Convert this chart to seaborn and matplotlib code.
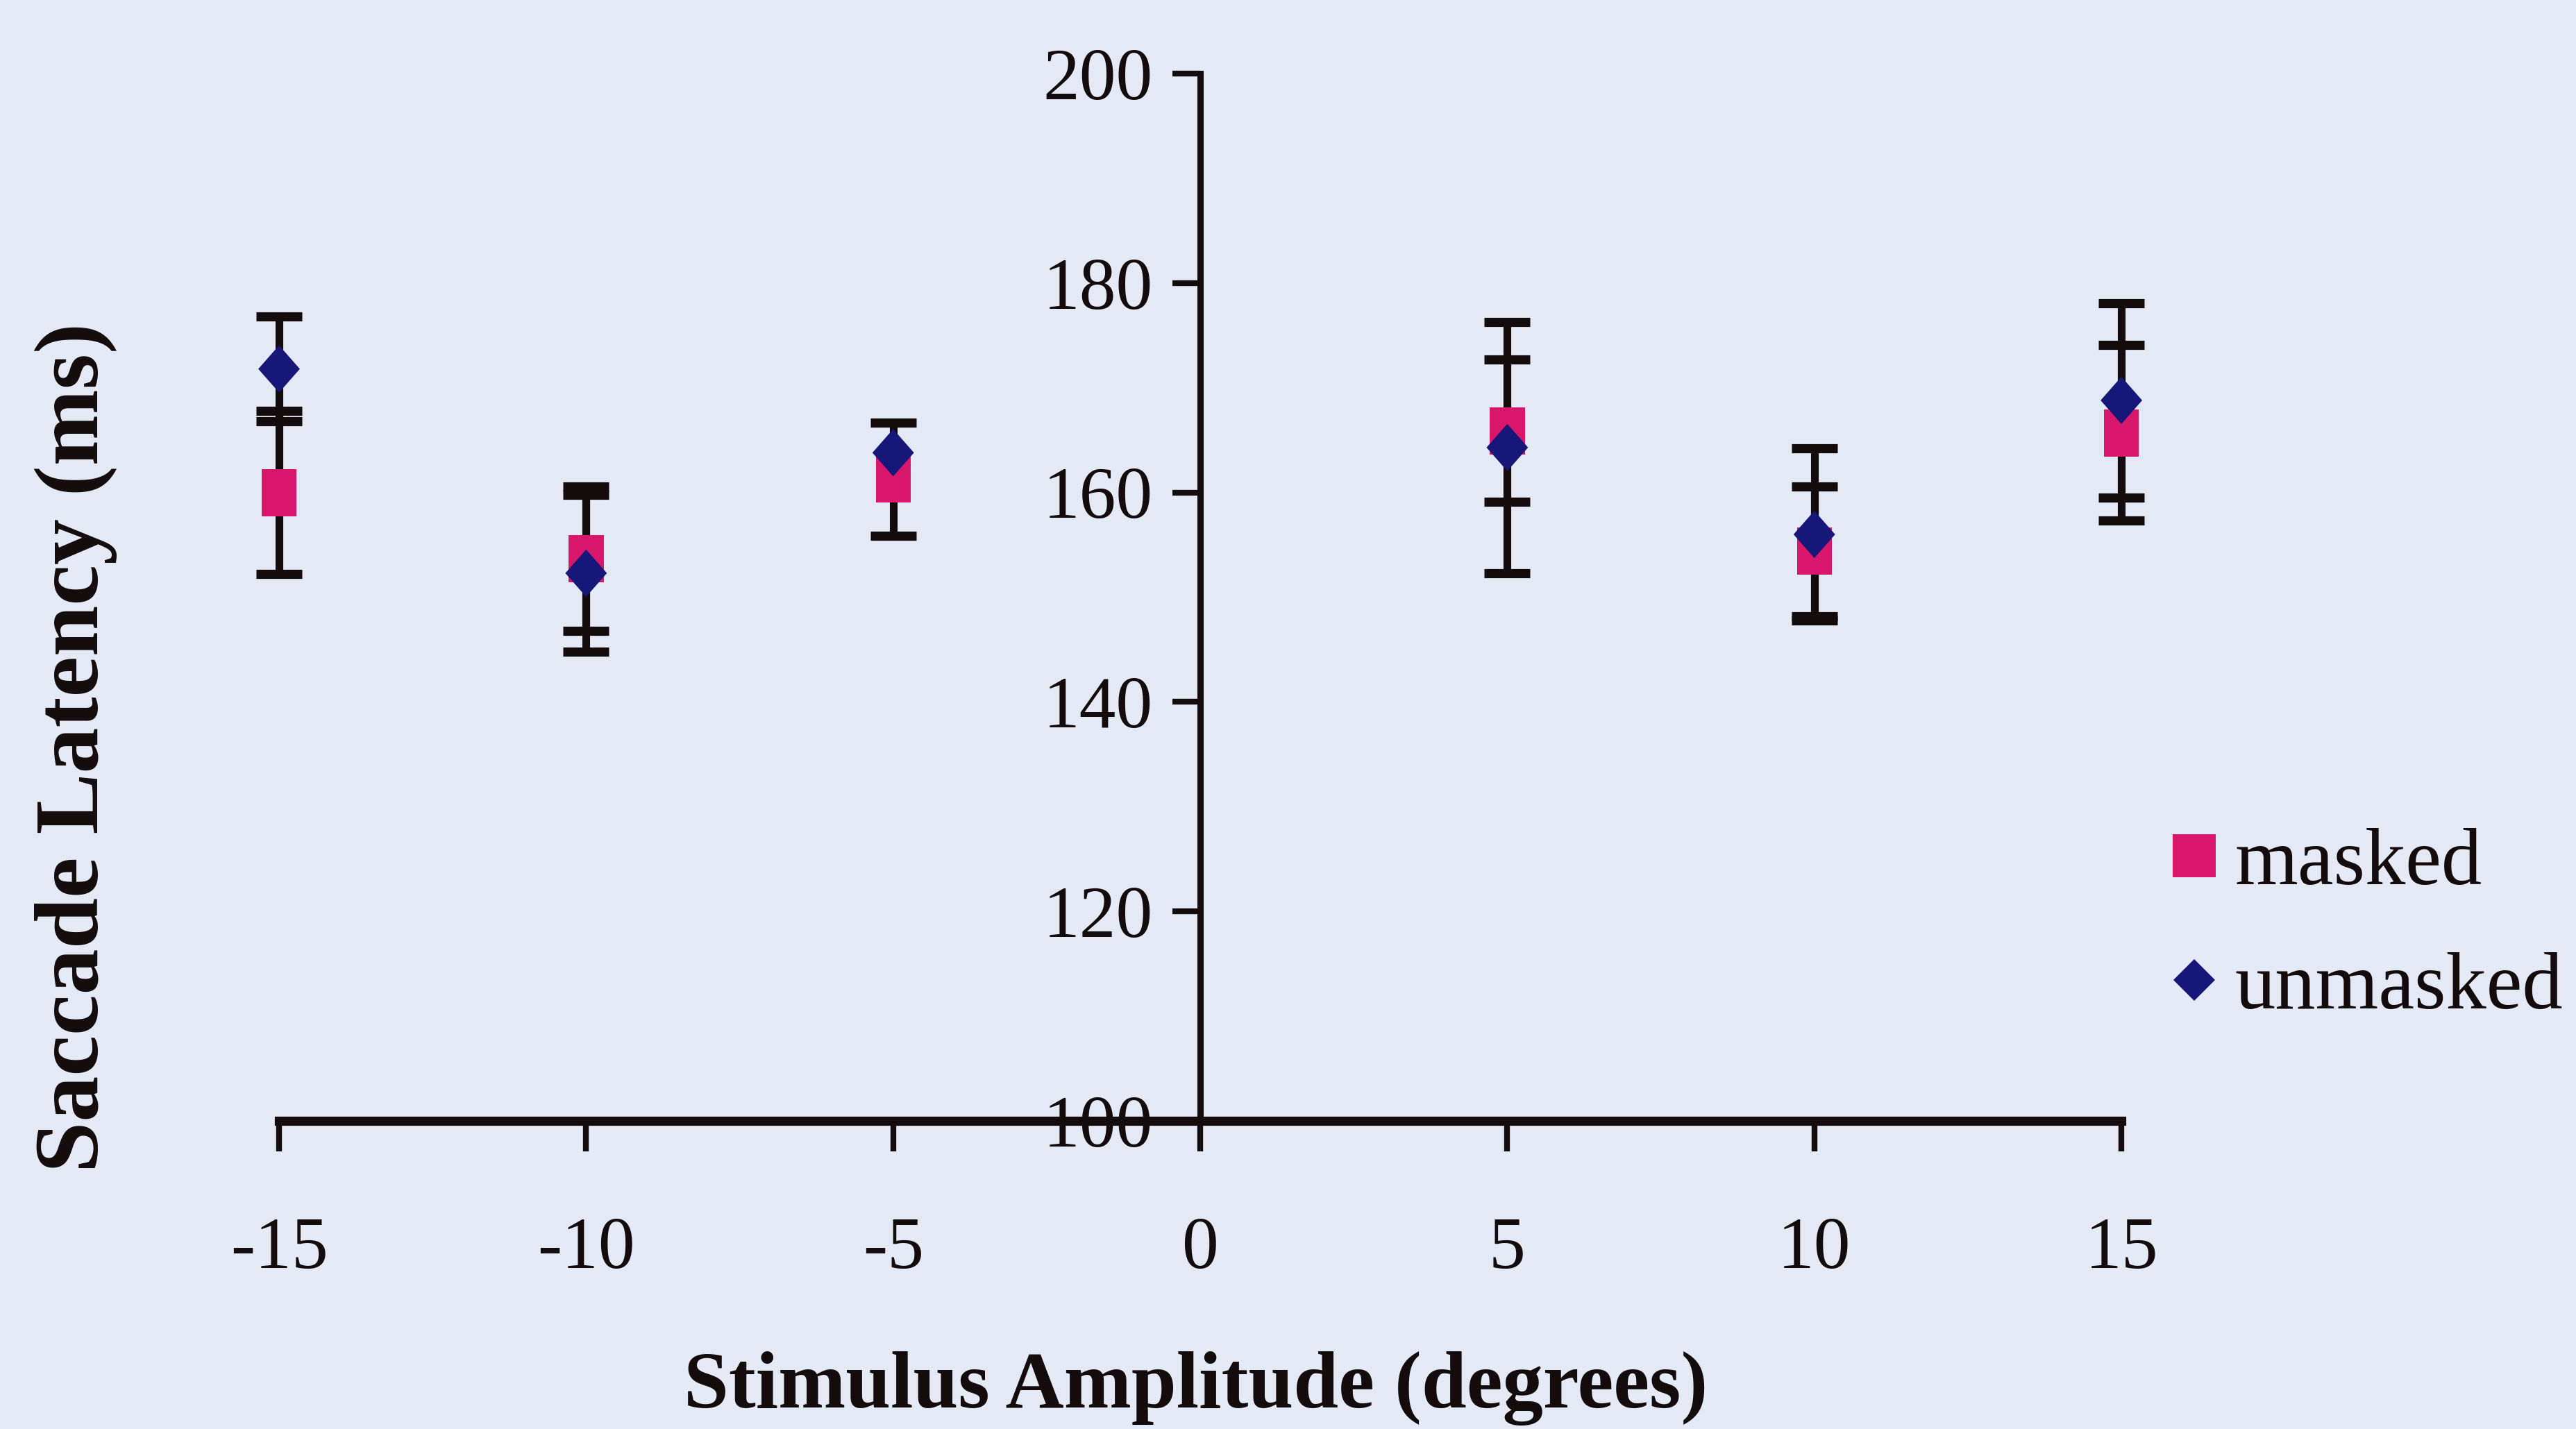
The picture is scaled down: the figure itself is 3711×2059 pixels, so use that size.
import numpy as np
import pandas as pd
import matplotlib
matplotlib.use("Agg")
import matplotlib.pyplot as plt
from matplotlib.lines import Line2D
from matplotlib.path import Path
import seaborn as sns

# valores
amplitud = [-15, -10, -5, 5, 10, 15]
masked_media = [160.0, 153.7, 161.3, 165.9, 154.4, 165.7]
masked_err = [7.8, 6.9, 5.4, 6.8, 6.2, 8.4]
unmasked_media = [171.8, 152.3, 163.8, 164.3, 156.0, 168.8]
# en -5 no se ve barra propia para unmasked
unmasked_err = [5.0, 7.5, 0.0, 12.0, 8.2, 9.3]

x_ticks = [-15, -10, -5, 0, 5, 10, 15]
y_ticks = [100, 120, 140, 160, 180, 200]

fondo = "#e4e9f6"
rosa = "#d8166c"
azul = "#17177a"
negro = "#140c0c"

sns.set_style("ticks")
plt.rcParams["font.family"] = ["Liberation Serif", "DejaVu Serif"]
plt.rcParams["axes.unicode_minus"] = False

df = pd.DataFrame({
    "amplitud": amplitud * 2,
    "latencia": masked_media + unmasked_media,
    "err": masked_err + unmasked_err,
    "condicion": ["masked"] * len(amplitud) + ["unmasked"] * len(amplitud),
})

# marcadores algo alargados en vertical, como en la figura original
rect = Path([(-0.74, -1), (0.74, -1), (0.74, 1), (-0.74, 1), (-0.74, -1)], closed=True)
rombo = Path([(0, -1), (0.88, 0), (0, 1), (-0.88, 0), (0, -1)], closed=True)

fig = plt.figure(figsize=(37.12, 20.59), dpi=100, facecolor=fondo)
ax = fig.add_axes([0.1083, 0.2156, 0.715, 0.7329])
ax.set_facecolor(fondo)

for cond in ["masked", "unmasked"]:
    sub = df[(df["condicion"] == cond) & (df["err"] > 0)]
    ax.errorbar(sub["amplitud"], sub["latencia"], yerr=sub["err"], fmt="none",
                ecolor=negro, elinewidth=8, capsize=24, capthick=9.5,
                clip_on=False, zorder=2)

sns.scatterplot(data=df, x="amplitud", y="latencia", hue="condicion", style="condicion",
                markers={"masked": rect, "unmasked": rombo},
                palette={"masked": rosa, "unmasked": azul},
                s=2400, linewidth=0, legend=False, clip_on=False, zorder=3, ax=ax)

ax.set_xlim(-15, 15)
ax.set_ylim(100, 200)
ax.set_xticks(x_ticks)
ax.set_xticklabels([str(t) for t in x_ticks])
ax.set_yticks(y_ticks)
ax.set_yticklabels([str(t) for t in y_ticks])
ax.set_xlabel("")
ax.set_ylabel("")

ax.spines["left"].set_position(("data", 0))
ax.spines["top"].set_visible(False)
ax.spines["right"].set_visible(False)
ax.spines["bottom"].set_linewidth(9.5)
ax.spines["left"].set_linewidth(6.5)
ax.spines["bottom"].set_color(negro)
ax.spines["left"].set_color(negro)
ax.spines["bottom"].set_zorder(1)

ax.tick_params(axis="x", direction="out", length=32, width=6, color=negro,
               pad=68, labelsize=76, labelcolor=negro)
ax.tick_params(axis="y", direction="out", length=29, width=6, color=negro,
               pad=20, labelsize=76, labelcolor=negro)

fig.text(1723 / 3712, 1 - 2000 / 2059, "Stimulus Amplitude (degrees)", ha="center",
         va="center", fontsize=84, fontweight="bold", color=negro)
fig.text(109 / 3712, 1 - 1077 / 2059, "Saccade Latency (ms)", ha="center",
         va="center", rotation=90, fontsize=95, fontweight="bold", color=negro)

handles = [
    Line2D([], [], linestyle="none", marker="s", markersize=44, color=rosa, markeredgewidth=0),
    Line2D([], [], linestyle="none", marker="D", markersize=31, color=azul, markeredgewidth=0),
]
fig.legend(handles, ["masked", "unmasked"], loc="center left",
           bbox_to_anchor=(3126 / 3712, 1 - 1335 / 2059), frameon=False,
           fontsize=84, handlelength=0.6, handletextpad=0.2, labelspacing=0.62,
           borderpad=0, borderaxespad=0, labelcolor=negro)

fig.savefig("out.png", dpi=100, facecolor=fondo)
